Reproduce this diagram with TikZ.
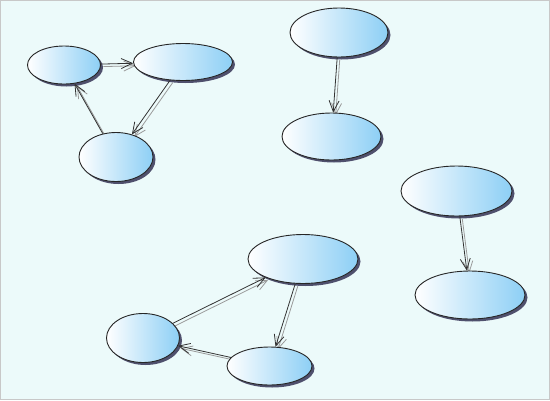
\documentclass[tikz,border=0pt]{standalone}
\usetikzlibrary{arrows.meta,shadows,backgrounds,shapes.geometric}
\definecolor{bg}{HTML}{ECFAFA}
\definecolor{framec}{HTML}{C8C8C8}
\definecolor{ellblue}{HTML}{8DCFF5}
\definecolor{shadowc}{HTML}{3E3E5E}
\definecolor{edgec}{HTML}{333333}
\definecolor{edgeshadow}{HTML}{9A9A9A}
\tikzset{
 ell/.style={ellipse, draw=black!85, line width=0.9pt, left color=white, right color=ellblue, inner sep=0pt,
   drop shadow={shadow xshift=2.5pt, shadow yshift=-2.5pt, fill=shadowc, opacity=0.9}},
 arr/.style={draw=edgec, line width=0.8pt, -{Straight Barb[length=11pt,width=10pt]}},
 arrsh/.style={draw=edgeshadow, line width=0.8pt, -{Straight Barb[length=11pt,width=10pt]}},
}
\begin{document}
\begin{tikzpicture}[x=1pt,y=-1pt]
\begin{pgfonlayer}{background}
\fill[framec] (0,0) rectangle (550,400);
\fill[bg] (1,1) rectangle (549,399);
\end{pgfonlayer}
\useasboundingbox (0,0) rectangle (550,400);
\node[ell, minimum width=73pt, minimum height=38pt] (a) at (64,65) {};
\node[ell, minimum width=99pt, minimum height=37pt] (b) at (183,62) {};
\node[ell, minimum width=74pt, minimum height=49pt] (c) at (116,157) {};
\node[ell, minimum width=98pt, minimum height=49pt] (d) at (339,32.5) {};
\node[ell, minimum width=99pt, minimum height=47pt] (e) at (331.5,136.5) {};
\node[ell, minimum width=111pt, minimum height=50pt] (f) at (456.5,191) {};
\node[ell, minimum width=110pt, minimum height=48pt] (g) at (470,295) {};
\node[ell, minimum width=110pt, minimum height=49pt] (h) at (303,259) {};
\node[ell, minimum width=73pt, minimum height=49pt] (i) at (143,338) {};
\node[ell, minimum width=85pt, minimum height=38pt] (j) at (269.5,366) {};
\begin{pgfonlayer}{background}
\begin{scope}[transform canvas={shift={(2.5pt,-2.5pt)}}]
\draw[arrsh] (a) -- (b);
\draw[arrsh] (b) -- (c);
\draw[arrsh] (c) -- (a);
\draw[arrsh] (d) -- (e);
\draw[arrsh] (f) -- (g);
\draw[arrsh] (i) -- (h);
\draw[arrsh] (h) -- (j);
\draw[arrsh] (j) -- (i);
\end{scope}
\end{pgfonlayer}
\draw[arr] (a) -- (b);
\draw[arr] (b) -- (c);
\draw[arr] (c) -- (a);
\draw[arr] (d) -- (e);
\draw[arr] (f) -- (g);
\draw[arr] (i) -- (h);
\draw[arr] (h) -- (j);
\draw[arr] (j) -- (i);
\end{tikzpicture}
\end{document}
